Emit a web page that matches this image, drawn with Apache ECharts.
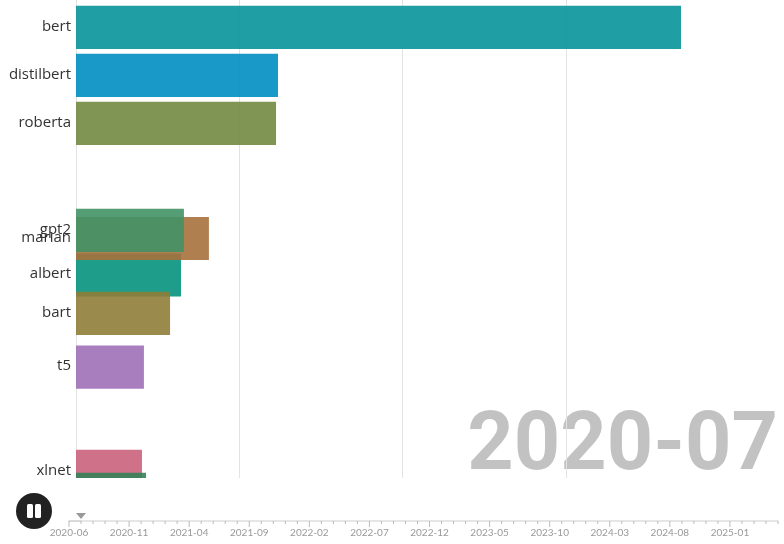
<!DOCTYPE html>
<html>
<head>
<meta charset="utf-8">
<script src="https://cdn.jsdelivr.net/npm/echarts@6/dist/echarts.min.js"></script>
<style>
html, body { margin: 0; padding: 0; background: #fff; }
#main { width: 784px; height: 544px; }
</style>
</head>
<body>
<div id="main"></div>
<script>
// snapshot of the race, caught mid-transition (ranks are fractional while bars slide)
var names = ['bert', 'distilbert', 'roberta', 'albert', 'marian', 'gpt2', 'bart', 't5', 'xlnet', 'electra'];
var values = [3705, 1237, 1225, 643, 814, 661, 576, 416, 404, 429];
var ranks = [0, 1, 2, 5.16, 4.40, 4.23, 5.96, 7.08, 9.25, 9.73];
var colors = ['#079399', '#008ec1', '#728841', '#06927d', '#a7713d', '#429266', '#8f7d38', '#9e70b8', '#ca627c', '#36835a'];

var months = [
    '2020-06', '2020-07', '2020-08', '2020-09', '2020-10', '2020-11', '2020-12',
    '2021-01', '2021-02', '2021-03', '2021-04', '2021-05', '2021-06', '2021-07', '2021-08', '2021-09', '2021-10', '2021-11', '2021-12',
    '2022-01', '2022-02', '2022-03', '2022-04', '2022-05', '2022-06', '2022-07', '2022-08', '2022-09', '2022-10', '2022-11', '2022-12',
    '2023-01', '2023-02', '2023-03', '2023-04', '2023-05', '2023-06', '2023-07', '2023-08', '2023-09', '2023-10', '2023-11', '2023-12',
    '2024-01', '2024-02', '2024-03', '2024-04', '2024-05', '2024-06', '2024-07', '2024-08', '2024-09', '2024-10', '2024-11', '2024-12',
    '2025-01', '2025-02', '2025-03', '2025-04', '2025-05'
];
var currentMonth = '2020-07';

var seriesData = [];
for (var i = 0; i < names.length; i++) {
    seriesData.push([values[i], ranks[i], names[i]]);
}

// every 5th month gets the long tick
var timelineData = months.map(function (m, idx) {
    var major = idx % 5 === 0;
    return {
        value: m,
        symbol: 'rect',
        symbolSize: major ? [1, 6] : [1, 3],
        symbolOffset: major ? [0, 3] : [0, 1.5]
    };
});

function renderBar(params, api) {
    var val = api.value(0), rank = api.value(1);
    var start = api.coord([0, rank]);
    var end = api.coord([val, rank]);
    var h = api.size([0, 0.9])[1];
    var cs = params.coordSys;
    var rect = echarts.graphic.clipRectByRect({
        x: start[0], y: start[1] - h / 2, width: end[0] - start[0], height: h
    }, { x: cs.x, y: cs.y, width: cs.width, height: cs.height });
    var children = [];
    if (rect) {
        children.push({
            type: 'rect',
            shape: rect,
            style: { fill: colors[params.dataIndex], opacity: 0.9 }
        });
    }
    if (start[1] <= cs.y + cs.height) {
        children.push({
            type: 'text',
            style: {
                text: names[params.dataIndex],
                x: start[0] - 5,
                y: start[1] - 1,
                align: 'right',
                verticalAlign: 'middle',
                fill: '#333',
                font: '15px "Open Sans"'
            }
        });
    }
    return { type: 'group', children: children };
}

var tlLabel = { color: '#999', fontSize: 10, fontFamily: 'Lato' };

var myChart = echarts.init(document.getElementById('main'));
var baseOption = {
    animation: false,
    grid: { left: 76, right: 103, top: 0, bottom: 66 },
    xAxis: {
        type: 'value',
        min: 0,
        max: 'dataMax',
        interval: 1000,
        axisLabel: { show: false },
        axisLine: { show: false },
        axisTick: { show: false },
        splitLine: { show: true, showMaxLine: false, lineStyle: { color: '#e3e3e3' } }
    },
    yAxis: {
        type: 'value',
        inverse: true,
        min: -0.57,
        max: 9.39,
        show: false
    },
    timeline: {
        axisType: 'category',
        data: timelineData,
        currentIndex: months.indexOf(currentMonth),
        autoPlay: false,
        left: 54,
        width: 709,
        bottom: -24,
        height: 40,
        lineStyle: { color: '#cccccc', width: 1 },
        itemStyle: { color: '#bbbbbb', borderWidth: 0 },
        label: Object.assign({ interval: 4, position: 7 }, tlLabel),
        progress: {
            lineStyle: { color: '#cccccc' },
            itemStyle: { color: '#bbbbbb' },
            label: tlLabel
        },
        checkpointStyle: {
            // down-pointing triangle sitting just above the line
            symbol: 'path://M0,0L10,0L5,6ZM5,16',
            symbolSize: [10, 16],
            color: '#999',
            borderWidth: 0,
            animation: false
        },
        controlStyle: { show: false },
        emphasis: { label: tlLabel }
    },
    graphic: [
        {
            type: 'text',
            right: 6,
            bottom: 55,
            style: {
                text: currentMonth,
                font: 'bold 81px Roboto',
                fill: 'rgba(0,0,0,0.24)'
            }
        },
        {
            type: 'group',
            left: 16,
            top: 493,
            children: [
                { type: 'circle', shape: { cx: 18, cy: 18, r: 18 }, style: { fill: '#222' } },
                { type: 'rect', shape: { x: 11, y: 11, width: 6, height: 14, r: 1.5 }, style: { fill: '#fff' } },
                { type: 'rect', shape: { x: 19, y: 11, width: 6, height: 14, r: 1.5 }, style: { fill: '#fff' } }
            ]
        }
    ],
    series: [{
        type: 'custom',
        renderItem: renderBar,
        encode: { x: 0, y: 1 },
        data: seriesData
    }]
};

// one (empty) option per timeline step; only the current frame is drawn
var frameOptions = months.map(function () { return {}; });

myChart.setOption({ baseOption: baseOption, options: frameOptions }, true);
</script>
</body>
</html>
